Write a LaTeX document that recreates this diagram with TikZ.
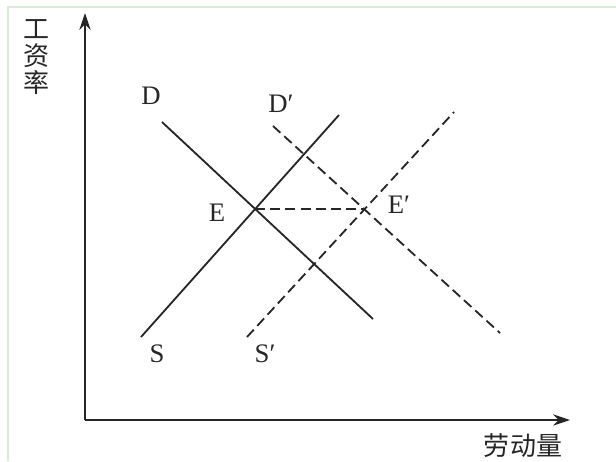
\documentclass[tikz,border=0pt]{standalone}
\usepackage{fontspec}
\setmainfont{Liberation Serif}
\newfontfamily\cjkfont{Noto Sans CJK SC}
\usetikzlibrary{arrows.meta}
\definecolor{frameGreen}{RGB}{216,236,212}
\definecolor{inkDark}{RGB}{38,38,38}

\begin{document}
\begin{tikzpicture}[
  x=0.025cm,y=-0.025cm,
  axis/.style={line width=1.3pt, draw=inkDark, -{Stealth[length=0.42cm,width=0.28cm]}},
  curve/.style={line width=1.3pt, draw=inkDark},
  shifted/.style={curve, dash pattern=on 0.25cm off 0.13cm},
  lbl/.style={font=\fontsize{19}{21}\selectfont, text=inkDark, inner sep=0pt},
  cjk/.style={font=\cjkfont\fontsize{18.5}{19}\selectfont, text=inkDark, inner sep=0pt, align=center}
]
\path[use as bounding box] (0,0) rectangle (616,461);
\draw[frameGreen, line width=1pt] (8,461) -- (8,7) -- (616,7);

% axes
\coordinate (origin) at (85,420);
\coordinate (yTip) at (85,13);
\coordinate (xTip) at (570,420);
\draw[axis] (origin) -- (yTip);
\draw[axis] (origin) -- (xTip);
\node[cjk] (wageRate) at (37,57) {工\\资\\率};
\node[cjk] (labourQty) at (523,446) {劳动量};

% original demand and supply
\coordinate (dTop) at (162,122);
\coordinate (dBot) at (373,319);
\coordinate (sBot) at (141,337);
\coordinate (sTop) at (339,115);
\draw[curve] (dTop) -- (dBot);
\draw[curve] (sBot) -- (sTop);

% shifted demand and supply
\coordinate (dpTop) at (273,126);
\coordinate (dpBot) at (500,333);
\coordinate (spBot) at (247,337);
\coordinate (spTop) at (454,112);
\draw[shifted] (dpTop) -- (dpBot);
\draw[shifted] (spBot) -- (spTop);

% equilibria
\coordinate (eqE) at (255,209);
\coordinate (eqEp) at (364,209);
\draw[shifted] (eqE) -- (eqEp);

\node[lbl] (labD) at (151,96) {D};
\node[lbl] (labDp) at (281,104) {D′};
\node[lbl] (labE) at (217,213) {E};
\node[lbl] (labEp) at (399,205) {E′};
\node[lbl] (labS) at (157,354) {S};
\node[lbl] (labSp) at (265,354) {S′};
\end{tikzpicture}
\end{document}
